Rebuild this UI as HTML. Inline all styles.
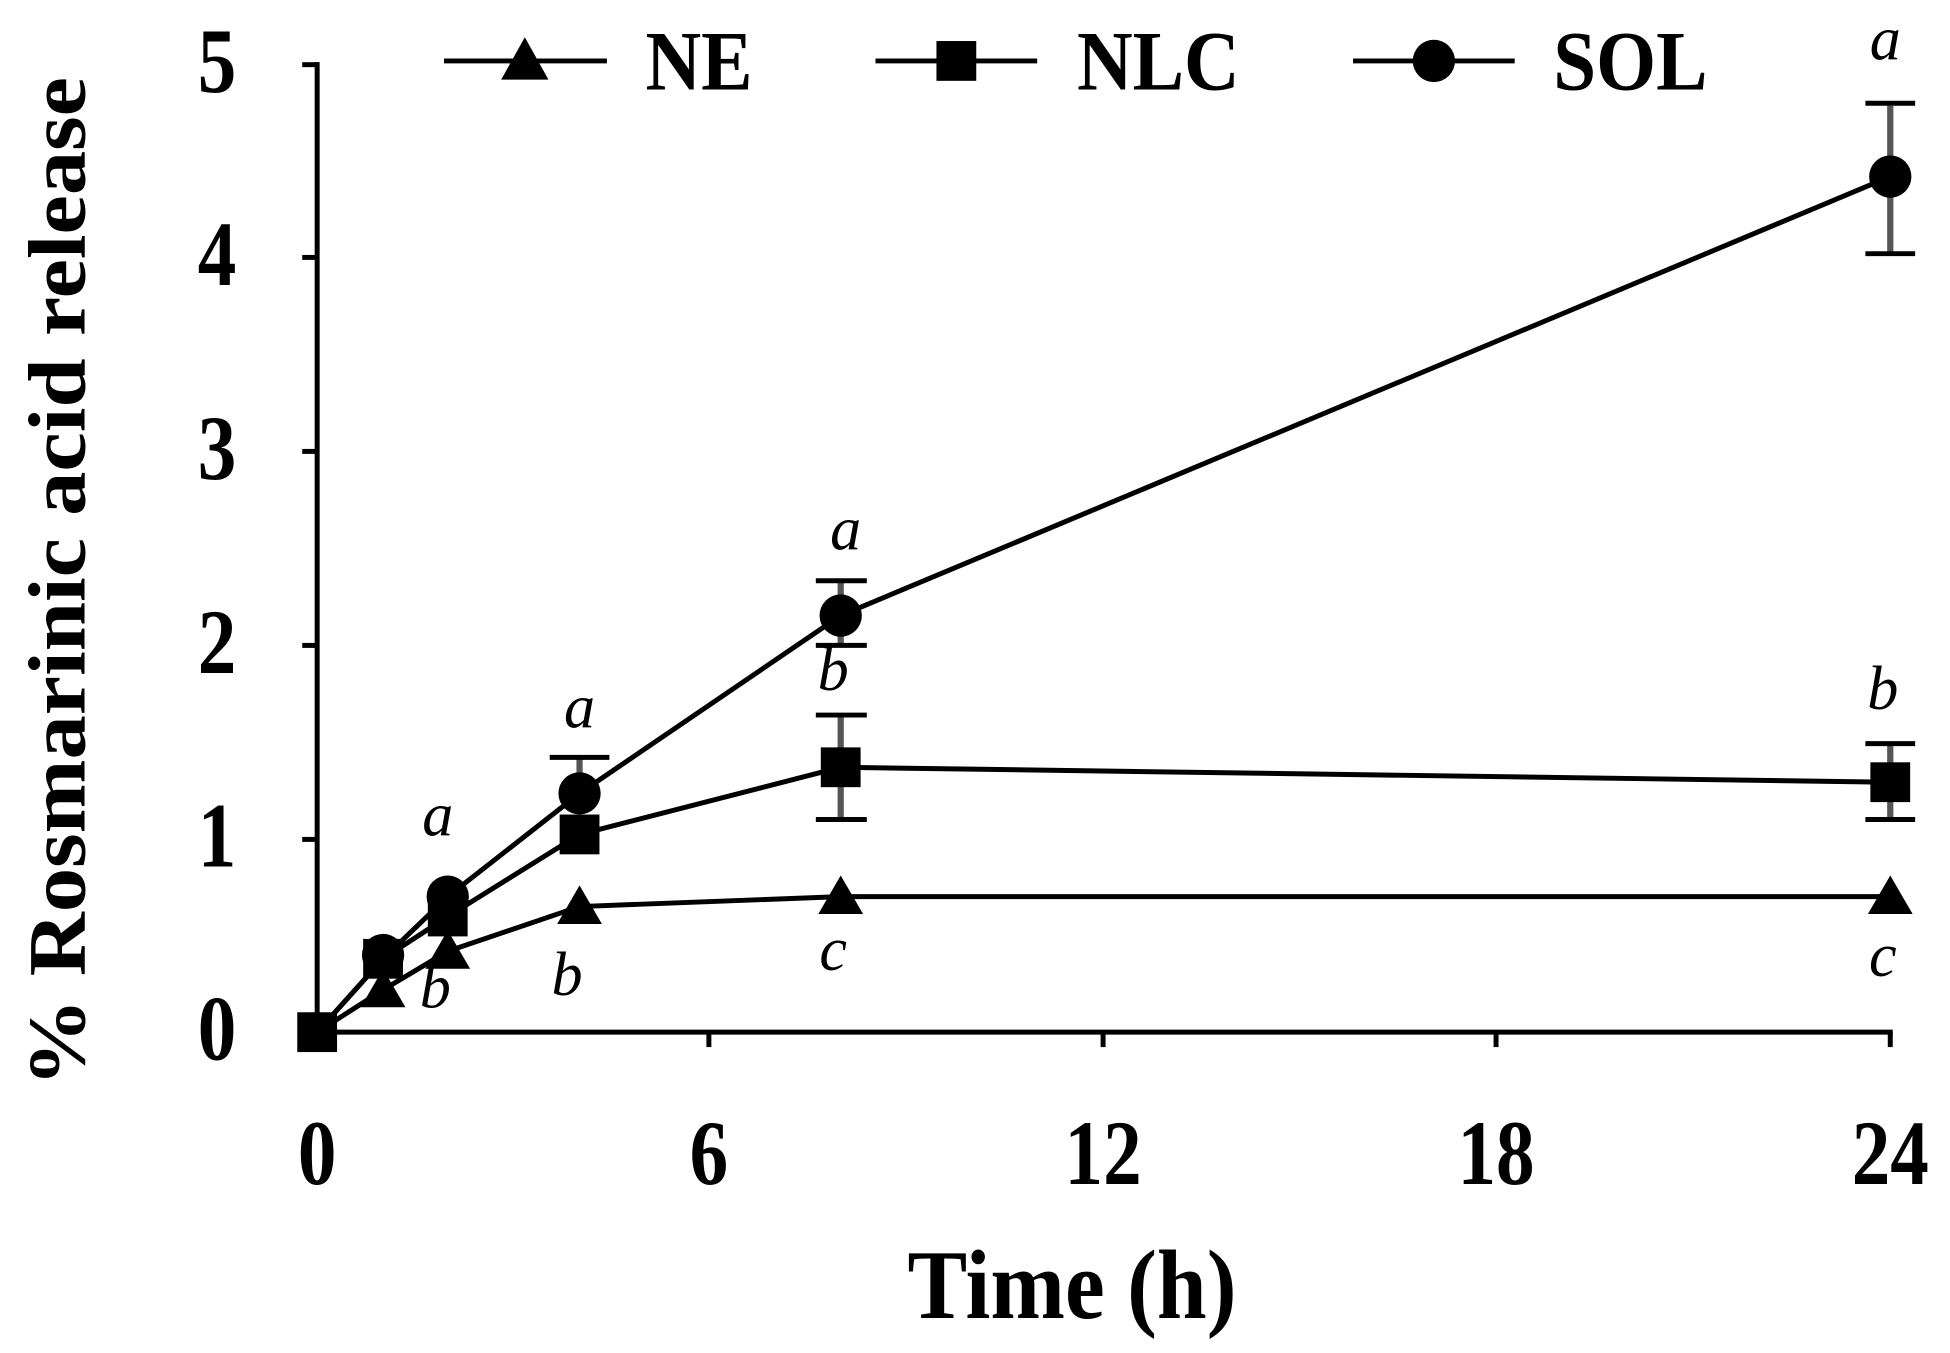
<!DOCTYPE html>
<html><head><meta charset="utf-8"><style>
html,body{margin:0;padding:0;background:#fff;}
svg{display:block;}
text{font-family:"Liberation Serif",serif;fill:#000;}
.t{font-weight:bold;font-size:62px;}
.l{font-style:italic;font-size:50px;}
</style></head><body>
<svg width="1950" height="1353" viewBox="0 0 1568 1088" xmlns="http://www.w3.org/2000/svg">
<g stroke="#000" stroke-width="4" fill="none">
<line x1="255" y1="50" x2="255" y2="832"/>
<line x1="253" y1="830" x2="1522" y2="830"/>
<line x1="243" y1="52" x2="255" y2="52"/>
<line x1="243" y1="207" x2="255" y2="207"/>
<line x1="243" y1="363" x2="255" y2="363"/>
<line x1="243" y1="519" x2="255" y2="519"/>
<line x1="243" y1="675" x2="255" y2="675"/>
<line x1="243" y1="830" x2="255" y2="830"/>
<line x1="570" y1="830" x2="570" y2="842"/>
<line x1="887" y1="830" x2="887" y2="842"/>
<line x1="1203" y1="830" x2="1203" y2="842"/>
<line x1="1520" y1="830" x2="1520" y2="842"/>
</g>
<g class="t" text-anchor="end">
<text x="190" y="74" transform="translate(0,74) scale(1,1.2) translate(0,-74)">5</text>
<text x="190" y="229" transform="translate(0,229) scale(1,1.2) translate(0,-229)">4</text>
<text x="190" y="385" transform="translate(0,385) scale(1,1.2) translate(0,-385)">3</text>
<text x="190" y="541" transform="translate(0,541) scale(1,1.2) translate(0,-541)">2</text>
<text x="190" y="697" transform="translate(0,697) scale(1,1.2) translate(0,-697)">1</text>
<text x="190" y="852" transform="translate(0,852) scale(1,1.2) translate(0,-852)">0</text>
</g>
<g class="t" text-anchor="middle">
<text x="255" y="952" transform="translate(0,952) scale(1,1.2) translate(0,-952)">0</text>
<text x="570" y="952" transform="translate(0,952) scale(1,1.2) translate(0,-952)">6</text>
<text x="887" y="952" transform="translate(0,952) scale(1,1.2) translate(0,-952)">12</text>
<text x="1203" y="952" transform="translate(0,952) scale(1,1.2) translate(0,-952)">18</text>
<text x="1520" y="952" transform="translate(0,952) scale(1,1.2) translate(0,-952)">24</text>
<text x="862" y="1060" font-size="72" transform="translate(0,1060) scale(1,1.1) translate(0,-1060)">Time (h)</text>
<text transform="translate(68,468) rotate(-90) scale(1.08,1)" font-size="66">% Rosmarinic acid release</text>
</g>
<g stroke="#555" stroke-width="5">
<line x1="1520" y1="85" x2="1520" y2="204"/>
<line x1="676" y1="467" x2="676" y2="519"/>
<line x1="676" y1="575" x2="676" y2="659"/>
<line x1="1520" y1="598" x2="1520" y2="659"/>
<line x1="466" y1="609" x2="466" y2="640"/>
</g>
<g stroke="#000" stroke-width="4">
<line x1="1500" y1="83" x2="1540" y2="83"/><line x1="1500" y1="204" x2="1540" y2="204"/>
<line x1="656" y1="467" x2="697" y2="467"/><line x1="656" y1="519" x2="697" y2="519"/>
<line x1="656" y1="575" x2="697" y2="575"/><line x1="656" y1="659" x2="697" y2="659"/>
<line x1="1500" y1="598" x2="1540" y2="598"/><line x1="1500" y1="659" x2="1540" y2="659"/>
<line x1="442" y1="609" x2="490" y2="609"/>
</g>
<g stroke="#000" stroke-width="4" fill="none">
<polyline points="255,830 308,771 360,721 466,638 676,495 1520,142"/>
<polyline points="255,830 308,771 360,737 466,671 676,617 1520,629"/>
<polyline points="255,830 308,796 360,765 466,729 676,721 1520,721"/>
</g>
<g fill="#000">
<circle cx="308" cy="768" r="17"/><circle cx="360" cy="721" r="17"/><circle cx="466" cy="638" r="17"/>
<circle cx="676" cy="495" r="17"/><circle cx="1520" cy="142" r="17"/>
<rect x="292" y="755" width="32" height="32"/><rect x="344" y="721" width="32" height="32"/>
<rect x="450" y="655" width="32" height="32"/><rect x="660" y="601" width="32" height="32"/>
<rect x="1504" y="613" width="32" height="32"/><rect x="239" y="814" width="32" height="32"/>
<polygon points="308,779 326,810 290,810"/><polygon points="360,748 378,779 342,779"/>
<polygon points="466,712 484,743 448,743"/><polygon points="676,704 694,735 658,735"/>
<polygon points="1520,704 1538,735 1502,735"/>
</g>
<g class="l" text-anchor="middle">
<text x="1516" y="48">a</text><text x="680" y="442">a</text><text x="466" y="585">a</text>
<text x="352" y="672">a</text><text x="670" y="555">b</text><text x="1514" y="570">b</text>
<text x="350" y="810">b</text><text x="456" y="800">b</text><text x="670" y="780">c</text>
<text x="1514" y="785">c</text>
</g>
<g stroke="#000" stroke-width="4"><line x1="357" y1="49" x2="488" y2="49"/><line x1="704" y1="49" x2="834" y2="49"/><line x1="1088" y1="49" x2="1218" y2="49"/></g>
<polygon points="422,30 441,64 403,64" fill="#000"/>
<rect x="753" y="33" width="32" height="32" fill="#000"/>
<circle cx="1153" cy="49" r="17" fill="#000"/>
<g class="t" font-size="68"><text x="519" y="72" transform="translate(0,72) scale(1,1.1) translate(0,-72)">NE</text><text x="866" y="72" transform="translate(0,72) scale(1,1.1) translate(0,-72)">NLC</text><text x="1249" y="72" transform="translate(0,72) scale(1,1.1) translate(0,-72)">SOL</text></g>
</svg>
</body></html>
